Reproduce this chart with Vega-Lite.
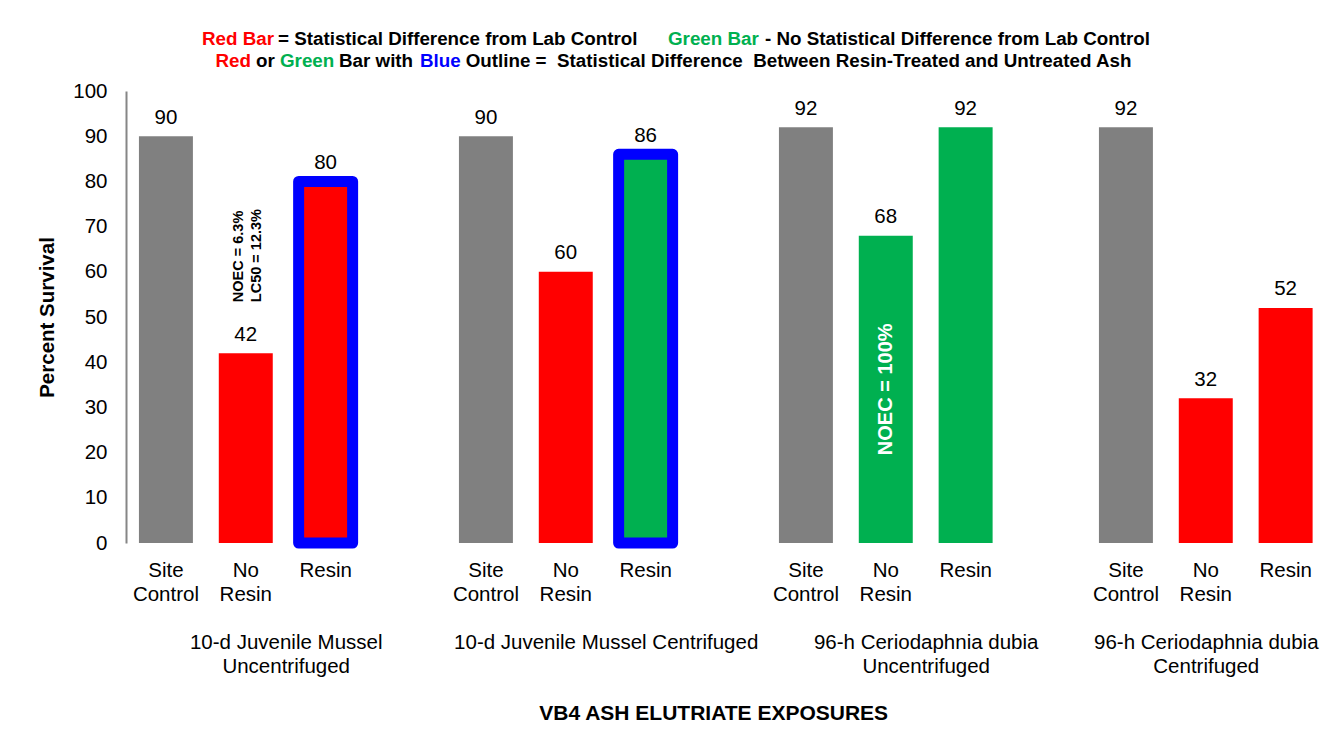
{
  "$schema": "https://vega.github.io/schema/vega-lite/v6.json",
  "background": "white",
  "padding": {"left": 37, "top": 10, "right": 0, "bottom": 0},
  "config": {
    "font": "Liberation Sans",
    "view": {"stroke": null},
    "axis": {"tickSize": 0, "ticks": false, "grid": false, "labelColor": "black", "titleColor": "black", "labelFont": "Liberation Sans", "titleFont": "Liberation Sans"},
    "concat": {"spacing": 10}
  },
  "datasets": {
    "survival": [
      {"exposure": "10-d Juvenile Mussel Uncentrifuged", "treatment": "Site Control", "survival": 90, "lab_control": "Site control"},
      {"exposure": "10-d Juvenile Mussel Uncentrifuged", "treatment": "No Resin", "survival": 42, "lab_control": "Different", "note": "NOEC = 6.3%\nLC50 = 12.3%"},
      {"exposure": "10-d Juvenile Mussel Uncentrifuged", "treatment": "Resin", "survival": 80, "lab_control": "Different", "resin_vs_untreated": "Different"},
      {"exposure": "10-d Juvenile Mussel Centrifuged", "treatment": "Site Control", "survival": 90, "lab_control": "Site control"},
      {"exposure": "10-d Juvenile Mussel Centrifuged", "treatment": "No Resin", "survival": 60, "lab_control": "Different"},
      {"exposure": "10-d Juvenile Mussel Centrifuged", "treatment": "Resin", "survival": 86, "lab_control": "Not different", "resin_vs_untreated": "Different"},
      {"exposure": "96-h Ceriodaphnia dubia Uncentrifuged", "treatment": "Site Control", "survival": 92, "lab_control": "Site control"},
      {"exposure": "96-h Ceriodaphnia dubia Uncentrifuged", "treatment": "No Resin", "survival": 68, "lab_control": "Not different", "note": "NOEC = 100%"},
      {"exposure": "96-h Ceriodaphnia dubia Uncentrifuged", "treatment": "Resin", "survival": 92, "lab_control": "Not different", "resin_vs_untreated": "Not different"},
      {"exposure": "96-h Ceriodaphnia dubia Centrifuged", "treatment": "Site Control", "survival": 92, "lab_control": "Site control"},
      {"exposure": "96-h Ceriodaphnia dubia Centrifuged", "treatment": "No Resin", "survival": 32, "lab_control": "Different"},
      {"exposure": "96-h Ceriodaphnia dubia Centrifuged", "treatment": "Resin", "survival": 52, "lab_control": "Different", "resin_vs_untreated": "Not different"}
    ]
  },
  "vconcat": [
    {
      "width": 1200,
      "height": 60,
      "data": {"values": [{}]},
      "layer": [
        {"mark": {"type": "text", "text": "Red Bar", "color": "#FF0000", "align": "left", "baseline": "alphabetic", "fontSize": 18.8, "fontWeight": "bold"},
         "encoding": {"x": {"datum": 76, "type": "quantitative", "scale": {"domain": [0, 1200], "nice": false, "zero": false}, "axis": null},
                      "y": {"datum": 35, "type": "quantitative", "scale": {"domain": [0, 60], "reverse": true, "nice": false}, "axis": null}}},
        {"mark": {"type": "text", "text": "= Statistical Difference from Lab Control", "color": "black", "align": "left", "baseline": "alphabetic", "fontSize": 18.8, "fontWeight": "bold"},
         "encoding": {"x": {"datum": 152, "type": "quantitative"}, "y": {"datum": 35, "type": "quantitative"}}},
        {"mark": {"type": "text", "text": "Green Bar", "color": "#00B050", "align": "left", "baseline": "alphabetic", "fontSize": 18.8, "fontWeight": "bold"},
         "encoding": {"x": {"datum": 542, "type": "quantitative"}, "y": {"datum": 35, "type": "quantitative"}}},
        {"mark": {"type": "text", "text": "- No Statistical Difference from Lab Control", "color": "black", "align": "left", "baseline": "alphabetic", "fontSize": 18.8, "fontWeight": "bold"},
         "encoding": {"x": {"datum": 639, "type": "quantitative"}, "y": {"datum": 35, "type": "quantitative"}}},
        {"mark": {"type": "text", "text": "Red", "color": "#FF0000", "align": "left", "baseline": "alphabetic", "fontSize": 18.8, "fontWeight": "bold"},
         "encoding": {"x": {"datum": 89.5, "type": "quantitative"}, "y": {"datum": 56.5, "type": "quantitative"}}},
        {"mark": {"type": "text", "text": "or", "color": "black", "align": "left", "baseline": "alphabetic", "fontSize": 18.8, "fontWeight": "bold"},
         "encoding": {"x": {"datum": 130, "type": "quantitative"}, "y": {"datum": 56.5, "type": "quantitative"}}},
        {"mark": {"type": "text", "text": "Green", "color": "#00B050", "align": "left", "baseline": "alphabetic", "fontSize": 18.8, "fontWeight": "bold"},
         "encoding": {"x": {"datum": 154, "type": "quantitative"}, "y": {"datum": 56.5, "type": "quantitative"}}},
        {"mark": {"type": "text", "text": "Bar with", "color": "black", "align": "left", "baseline": "alphabetic", "fontSize": 18.8, "fontWeight": "bold"},
         "encoding": {"x": {"datum": 213, "type": "quantitative"}, "y": {"datum": 56.5, "type": "quantitative"}}},
        {"mark": {"type": "text", "text": "Blue", "color": "#0000FF", "align": "left", "baseline": "alphabetic", "fontSize": 18.8, "fontWeight": "bold"},
         "encoding": {"x": {"datum": 294, "type": "quantitative"}, "y": {"datum": 56.5, "type": "quantitative"}}},
        {"mark": {"type": "text", "text": "Outline =\u00a0 Statistical Difference\u00a0 Between Resin-Treated and Untreated Ash", "color": "black", "align": "left", "baseline": "alphabetic", "fontSize": 18.8, "fontWeight": "bold"},
         "encoding": {"x": {"datum": 339.7, "type": "quantitative"}, "y": {"datum": 56.5, "type": "quantitative"}}}
      ]
    },
    {
      "spacing": 0,
      "title": {"text": "VB4 ASH ELUTRIATE EXPOSURES", "orient": "bottom", "anchor": "middle", "fontSize": 21, "fontWeight": "bold", "color": "black", "offset": 26, "dx": 32},
      "hconcat": [
        {
          "width": 319.4,
          "height": 452,
          "data": {"name": "survival"},
          "transform": [{"filter": "datum.exposure === '10-d Juvenile Mussel Uncentrifuged'"}],
          "encoding": {
            "x": {"field": "treatment", "type": "nominal",
                  "scale": {"domain": ["Site Control", "No Resin", "Resin", ""], "paddingInner": 0.324, "paddingOuter": 0.162},
                  "axis": {"title": ["10-d Juvenile Mussel", "Uncentrifuged"], "labelAngle": 0, "domain": false, "labelFontSize": 20.5, "labelPadding": 17, "labelLineHeight": 24, "labelExpr": "split(datum.label, ' ')", "titleFontSize": 20.5, "titleFontWeight": "normal", "titleLineHeight": 23.5, "titlePadding": 28}}
          },
          "layer": [
            {"mark": {"type": "bar", "stroke": "#0000FF", "strokeJoin": "round"},
             "encoding": {
               "y": {"field": "survival", "type": "quantitative", "scale": {"domain": [0, 100], "nice": false},
                     "axis": {"title": "Percent Survival", "values": [0, 10, 20, 30, 40, 50, 60, 70, 80, 90, 100], "domainColor": "#868686", "domainWidth": 2, "labelFontSize": 20.5, "labelPadding": 19, "titleFontSize": 20.5, "titleFontWeight": "bold", "titlePadding": 15}},
               "color": {"field": "lab_control", "type": "nominal", "scale": {"domain": ["Site control", "Different", "Not different"], "range": ["#808080", "#FF0000", "#00B050"]}, "legend": null},
               "strokeWidth": {"condition": {"test": "datum.resin_vs_untreated === 'Different'", "value": 11}, "value": 0}
             }},
            {"mark": {"type": "text", "baseline": "middle", "dy": -18.5, "fontSize": 20.5, "color": "black"},
             "encoding": {"y": {"field": "survival", "type": "quantitative"}, "text": {"field": "survival", "type": "quantitative"}}},
            {"transform": [{"filter": "isValid(datum.note)"}],
             "mark": {"type": "text", "angle": 270, "align": "left", "baseline": "middle", "dx": 51, "dy": -7, "fontSize": 14.5, "fontWeight": "bold", "lineBreak": "\n", "lineHeight": 18, "color": "black"},
             "encoding": {"y": {"field": "survival", "type": "quantitative"}, "text": {"field": "note", "type": "nominal"}}}
          ]
        },
        {
          "width": 319.4,
          "height": 452,
          "data": {"name": "survival"},
          "transform": [{"filter": "datum.exposure === '10-d Juvenile Mussel Centrifuged'"}],
          "encoding": {
            "x": {"field": "treatment", "type": "nominal",
                  "scale": {"domain": ["Site Control", "No Resin", "Resin", ""], "paddingInner": 0.324, "paddingOuter": 0.162},
                  "axis": {"title": "10-d Juvenile Mussel Centrifuged", "labelAngle": 0, "domain": false, "labelFontSize": 20.5, "labelPadding": 17, "labelLineHeight": 24, "labelExpr": "split(datum.label, ' ')", "titleFontSize": 20.5, "titleFontWeight": "normal", "titleLineHeight": 23.5, "titlePadding": 28}}
          },
          "layer": [
            {"mark": {"type": "bar", "stroke": "#0000FF", "strokeJoin": "round"},
             "encoding": {
               "y": {"field": "survival", "type": "quantitative", "scale": {"domain": [0, 100], "nice": false}, "axis": null},
               "color": {"field": "lab_control", "type": "nominal", "scale": {"domain": ["Site control", "Different", "Not different"], "range": ["#808080", "#FF0000", "#00B050"]}, "legend": null},
               "strokeWidth": {"condition": {"test": "datum.resin_vs_untreated === 'Different'", "value": 11}, "value": 0}
             }},
            {"mark": {"type": "text", "baseline": "middle", "dy": -18.5, "fontSize": 20.5, "color": "black"},
             "encoding": {"y": {"field": "survival", "type": "quantitative", "axis": null}, "text": {"field": "survival", "type": "quantitative"}}}
          ]
        },
        {
          "width": 319.4,
          "height": 452,
          "data": {"name": "survival"},
          "transform": [{"filter": "datum.exposure === '96-h Ceriodaphnia dubia Uncentrifuged'"}],
          "encoding": {
            "x": {"field": "treatment", "type": "nominal",
                  "scale": {"domain": ["Site Control", "No Resin", "Resin", ""], "paddingInner": 0.324, "paddingOuter": 0.162},
                  "axis": {"title": ["96-h Ceriodaphnia dubia", "Uncentrifuged"], "labelAngle": 0, "domain": false, "labelFontSize": 20.5, "labelPadding": 17, "labelLineHeight": 24, "labelExpr": "split(datum.label, ' ')", "titleFontSize": 20.5, "titleFontWeight": "normal", "titleLineHeight": 23.5, "titlePadding": 28}}
          },
          "layer": [
            {"mark": {"type": "bar", "stroke": "#0000FF", "strokeJoin": "round"},
             "encoding": {
               "y": {"field": "survival", "type": "quantitative", "scale": {"domain": [0, 100], "nice": false}, "axis": null},
               "color": {"field": "lab_control", "type": "nominal", "scale": {"domain": ["Site control", "Different", "Not different"], "range": ["#808080", "#FF0000", "#00B050"]}, "legend": null},
               "strokeWidth": {"condition": {"test": "datum.resin_vs_untreated === 'Different'", "value": 11}, "value": 0}
             }},
            {"mark": {"type": "text", "baseline": "middle", "dy": -18.5, "fontSize": 20.5, "color": "black"},
             "encoding": {"y": {"field": "survival", "type": "quantitative", "axis": null}, "text": {"field": "survival", "type": "quantitative"}}},
            {"transform": [{"filter": "isValid(datum.note)"}],
             "mark": {"type": "text", "angle": 270, "align": "center", "baseline": "middle", "fontSize": 20, "fontWeight": "bold", "color": "white"},
             "encoding": {"y": {"field": "survival", "type": "quantitative", "stack": "zero", "bandPosition": 0.5, "axis": null}, "text": {"field": "note", "type": "nominal"}}}
          ]
        },
        {
          "width": 239.55,
          "height": 452,
          "data": {"name": "survival"},
          "transform": [{"filter": "datum.exposure === '96-h Ceriodaphnia dubia Centrifuged'"}],
          "encoding": {
            "x": {"field": "treatment", "type": "nominal",
                  "scale": {"domain": ["Site Control", "No Resin", "Resin"], "paddingInner": 0.324, "paddingOuter": 0.162},
                  "axis": {"title": ["96-h Ceriodaphnia dubia", "Centrifuged"], "labelAngle": 0, "domain": false, "labelFontSize": 20.5, "labelPadding": 17, "labelLineHeight": 24, "labelExpr": "split(datum.label, ' ')", "titleFontSize": 20.5, "titleFontWeight": "normal", "titleLineHeight": 23.5, "titlePadding": 28}}
          },
          "layer": [
            {"mark": {"type": "bar", "stroke": "#0000FF", "strokeJoin": "round"},
             "encoding": {
               "y": {"field": "survival", "type": "quantitative", "scale": {"domain": [0, 100], "nice": false}, "axis": null},
               "color": {"field": "lab_control", "type": "nominal", "scale": {"domain": ["Site control", "Different", "Not different"], "range": ["#808080", "#FF0000", "#00B050"]}, "legend": null},
               "strokeWidth": {"condition": {"test": "datum.resin_vs_untreated === 'Different'", "value": 11}, "value": 0}
             }},
            {"mark": {"type": "text", "baseline": "middle", "dy": -18.5, "fontSize": 20.5, "color": "black"},
             "encoding": {"y": {"field": "survival", "type": "quantitative", "axis": null}, "text": {"field": "survival", "type": "quantitative"}}}
          ]
        }
      ]
    }
  ]
}
